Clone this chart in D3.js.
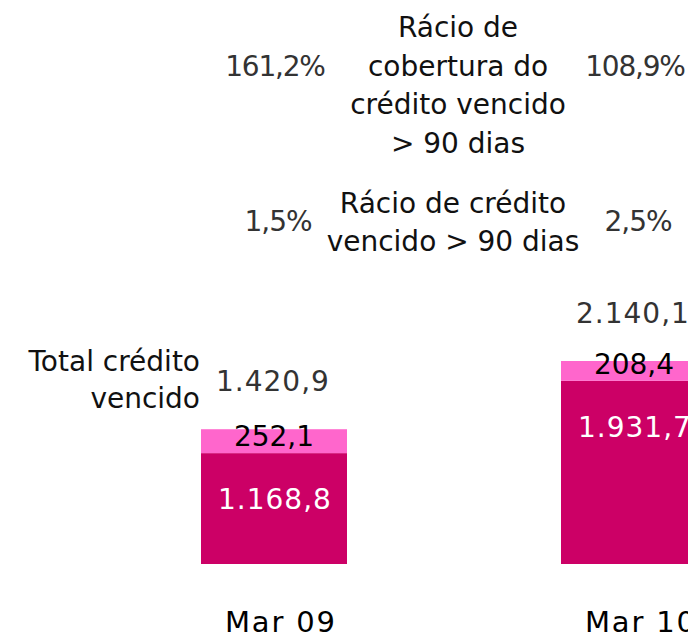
<!DOCTYPE html>
<html>
<head>
<meta charset="utf-8">
<script src="https://cdn.jsdelivr.net/npm/d3@7"></script>
<style>
  body { margin: 0; background: #fff; }
  svg { display: block; font-family: 'DejaVu Sans', sans-serif; }
</style>
</head>
<body>
<script>
const width = 688;
const height = 642;

// data
const periods = ['Mar 09', 'Mar 10'];
const vencido90 = [1168.8, 1931.7];
const vencidoOutro = [252.1, 208.4];
const totalLabels = ['1.420,9', '2.140,1'];
const rankCobertura = ['161,2%', '108,9%'];
const rankVencido = ['1,5%', '2,5%'];

const fmt = v => {
  let s = v.toFixed(1).replace('.', ',');
  let [i, d] = s.split(',');
  i = i.replace(/\B(?=(\d{3})+(?!\d))/g, '.');
  return i + ',' + d;
};

const data = periods.map((p, i) => ({
  period: p,
  base: vencido90[i],
  extra: vencidoOutro[i],
  total: vencido90[i] + vencidoOutro[i]
}));

const svg = d3.select('body').append('svg')
  .attr('width', width)
  .attr('height', height);

const x = d3.scaleBand()
  .domain(periods)
  .range([201, 707])
  .paddingInner(214 / 360)
  .paddingOuter(0);

const y = d3.scaleLinear()
  .domain([0, 2140.1])
  .range([564, 361]);

const fs = 28;

// bars
const g = svg.append('g');
g.selectAll('rect.base')
  .data(data)
  .join('rect')
  .attr('class', 'base')
  .attr('x', d => x(d.period))
  .attr('width', x.bandwidth())
  .attr('y', d => y(d.base))
  .attr('height', d => y(0) - y(d.base))
  .attr('fill', '#cc0066');

g.selectAll('rect.extra')
  .data(data)
  .join('rect')
  .attr('class', 'extra')
  .attr('x', d => x(d.period))
  .attr('width', x.bandwidth())
  .attr('y', d => y(d.total))
  .attr('height', d => y(d.base) - y(d.total))
  .attr('fill', '#ff66cc');

const cx = d => x(d.period) + x.bandwidth() / 2;

// value labels
g.selectAll('text.base')
  .data(data)
  .join('text')
  .attr('x', d => x(d.period) + 17)
  .attr('y', d => y(d.base) + 56)
  .attr('font-size', fs)
  .attr('letter-spacing', 1)
  .attr('fill', '#fff')
  .text(d => fmt(d.base));

g.selectAll('text.extra')
  .data(data)
  .join('text')
  .attr('x', cx)
  .attr('y', d => y(d.base) - 7)
  .attr('text-anchor', 'middle')
  .attr('font-size', fs)
  .attr('fill', '#000')
  .text(d => fmt(d.extra));

g.selectAll('text.total')
  .data(data)
  .join('text')
  .attr('x', d => x(d.period) + 15)
  .attr('y', d => y(d.total) - 38)
  .attr('font-size', fs)
  .attr('letter-spacing', 1)
  .attr('fill', '#333')
  .text((d, i) => totalLabels[i]);

// ratio rows
g.selectAll('text.cob')
  .data(data)
  .join('text')
  .attr('x', d => cx(d) + 1)
  .attr('y', 76)
  .attr('text-anchor', 'middle')
  .attr('font-size', fs)
  .attr('letter-spacing', -1.2)
  .attr('fill', '#333')
  .text((d, i) => rankCobertura[i]);

g.selectAll('text.venc')
  .data(data)
  .join('text')
  .attr('x', d => cx(d) + 4)
  .attr('y', 231)
  .attr('text-anchor', 'middle')
  .attr('font-size', fs)
  .attr('letter-spacing', -1)
  .attr('fill', '#333')
  .text((d, i) => rankVencido[i]);

// x axis labels
g.selectAll('text.cat')
  .data(data)
  .join('text')
  .attr('x', d => x(d.period) + 24)
  .attr('y', 632)
  .attr('font-size', 29)
  .attr('letter-spacing', 1.8)
  .attr('fill', '#000')
  .text(d => d.period);

// row titles
function block(lines, xPos, y0, lh, anchor) {
  const t = svg.append('text')
    .attr('text-anchor', anchor)
    .attr('font-size', fs)
    .attr('fill', '#111');
  lines.forEach((l, i) => {
    t.append('tspan').attr('x', xPos).attr('y', y0 + i * lh).text(l);
  });
}

block(['Rácio de', 'cobertura do', 'crédito vencido', '> 90 dias'], 458, 37, 38.5, 'middle');
block(['Rácio de crédito', 'vencido > 90 dias'], 453, 213, 38, 'middle');
block(['Total crédito', 'vencido'], 200, 371, 37, 'end');
</script>
</body>
</html>
